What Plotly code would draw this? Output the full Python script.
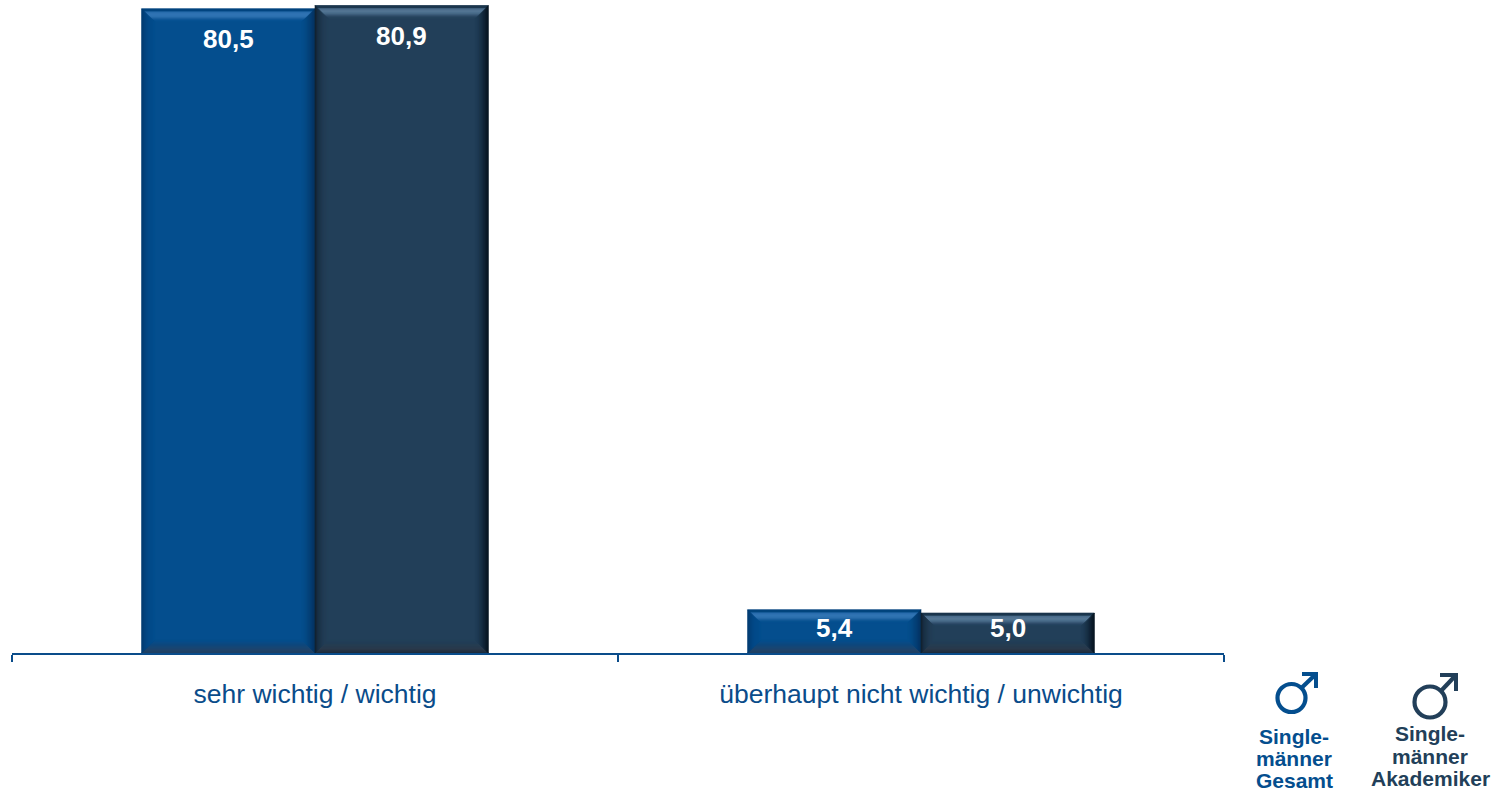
import plotly.graph_objects as go

categories = ["sehr wichtig / wichtig", "überhaupt nicht wichtig / unwichtig"]
series_names = ["Singlemänner Gesamt", "Singlemänner Akademiker"]
gesamt = [80.5, 5.4]
akademiker = [80.9, 5.0]
value_labels = [["80,5", "5,4"], ["80,9", "5,0"]]
label_drop_px = [[30, 18], [30, 15]]
legend_lines = [["Single-", "männer", "Gesamt"], ["Single-", "männer", "Akademiker"]]

W, H = 1507, 788
L, R, T, B = 12, 283, 0, 135
PLOT_W, PLOT_H = W - L - R, H - T - B
YMAX = 81.6
BARGAP = 0.428
PX_UNIT = PLOT_H / YMAX
BAR_UNITS = (1 - BARGAP) / 2
BAR_PX = BAR_UNITS * PLOT_W / len(categories)
BLUE, NAVY = "#044E8E", "#223F59"
AXIS = "#0A4C8A"
FONT = "Liberation Sans, Arial, sans-serif"
BEVEL = 13


def hex2rgb(c):
    return [int(c[i:i + 2], 16) for i in (1, 3, 5)]


def ramp(stops, k):
    for (a, ca), (b, cb) in zip(stops, stops[1:]):
        if a <= k <= b:
            t = (k - a) / (b - a)
            ra, rb = hex2rgb(ca), hex2rgb(cb)
            return "rgb(%d,%d,%d)" % tuple(round(x + (y - x) * t) for x, y in zip(ra, rb))
    return stops[-1][1]


PROFILES = {
    BLUE: {
        "top": [(0, "#03427C"), (2.5, "#03467F"), (3.5, "#2A6CAC"), (6, "#3679B8"), (8.5, "#2E70AF"), (11, "#0F5797"), (13, BLUE)],
        "left": [(0, "#04396B"), (3, "#03427C"), (7, "#034A88"), (13, BLUE)],
        "right": [(0, "#04305C"), (4, "#033D70"), (9, "#034882"), (13, BLUE)],
        "bottom": [(0, "#1E3F63"), (4, "#1F456E"), (8, "#0F477C"), (13, BLUE)],
    },
    NAVY: {
        "top": [(0, "#1A344C"), (2.5, "#1D384F"), (3.5, "#4A6B8A"), (6, "#587A98"), (8.5, "#486987"), (11, "#2C4A66"), (13, NAVY)],
        "left": [(0, "#101F2D"), (3, "#192F44"), (8, "#203B53"), (13, NAVY)],
        "right": [(0, "#06111B"), (4, "#0F2132"), (9, "#1C364D"), (13, NAVY)],
        "bottom": [(0, "#1B2B3A"), (4, "#2A3A4A"), (8, "#253C52"), (13, NAVY)],
    },
}


def bevel_shapes(cat_index, side, value, base):
    """Bevel rings for one bar, anchored on the bar's own data position."""
    left_units = cat_index - BAR_UNITS if side == 0 else cat_index
    w, h = BAR_PX, value * PX_UNIT
    out = []
    for k in range(BEVEL):
        a, b = k, k + 1
        lo = 0
        polys = {
            "top": [(a, h - a), (w - a, h - a), (w - b, h - b), (b, h - b)],
            "bottom": [(a, lo + a), (w - a, lo + a), (w - b, lo + b), (b, lo + b)],
            "left": [(a, lo + a), (b, lo + b), (b, h - b), (a, h - a)],
            "right": [(w - a, lo + a), (w - b, lo + b), (w - b, h - b), (w - a, h - a)],
        }
        for name, pts in polys.items():
            col = ramp(PROFILES[base][name], k + 0.5)
            path = "M" + " L".join(f"{x:.2f},{y:.2f}" for x, y in pts) + " Z"
            out.append(dict(type="path", path=path, xref="x", yref="y",
                            xsizemode="pixel", ysizemode="pixel",
                            xanchor=left_units, yanchor=0,
                            fillcolor=col, line=dict(color=col, width=0.6), layer="above"))
    return out


def xp(px):
    return (px - L) / PLOT_W


def yp(py):
    return (H - B - py) / PLOT_H


def mars_shapes(cx, cy, r, tipx, tipy, head, color):
    d = 0.7071
    sx, sy = cx + r * d, cy - r * d
    lw = 4.2
    return [
        dict(type="circle", xref="paper", yref="paper", x0=xp(cx - r), x1=xp(cx + r),
             y0=yp(cy + r), y1=yp(cy - r), line=dict(color=color, width=lw)),
        dict(type="line", xref="paper", yref="paper", x0=xp(sx), y0=yp(sy), x1=xp(tipx - 2), y1=yp(tipy + 2),
             line=dict(color=color, width=lw)),
        dict(type="path", xref="paper", yref="paper", line=dict(color=color, width=0), fillcolor=color,
             path=(f"M{xp(tipx - head)},{yp(tipy)} L{xp(tipx)},{yp(tipy)} L{xp(tipx)},{yp(tipy + head)} "
                   f"L{xp(tipx - 4)},{yp(tipy + head)} L{xp(tipx - 4)},{yp(tipy + 4)} L{xp(tipx - head)},{yp(tipy + 4)} Z")),
    ]


fig = go.Figure()
fig.add_bar(name=series_names[0], x=categories, y=gesamt, marker=dict(color=BLUE, line=dict(width=0)))
fig.add_bar(name=series_names[1], x=categories, y=akademiker, marker=dict(color=NAVY, line=dict(width=0)))

shapes, annotations = [], []
for side, (vals, base) in enumerate(((gesamt, BLUE), (akademiker, NAVY))):
    for i, v in enumerate(vals):
        shapes += bevel_shapes(i, side, v, base)
        x_center = i - BAR_UNITS / 2 if side == 0 else i + BAR_UNITS / 2
        annotations.append(dict(x=x_center, y=v, xref="x", yref="y", text=value_labels[side][i],
                                showarrow=False, yshift=-label_drop_px[side][i], yanchor="middle", xanchor="center",
                                font=dict(family=FONT, size=26, color="white", weight="bold")))

shapes += mars_shapes(1291.5, 698, 14, 1318, 672, 16, BLUE)
shapes += mars_shapes(1430, 702, 15.5, 1458, 673, 18, NAVY)

legend_pos = [(1294, [736, 758, 780], BLUE), (1430, [733, 756, 778], NAVY)]
for lines, (cx, ys, col) in zip(legend_lines, legend_pos):
    for text, y in zip(lines, ys):
        annotations.append(dict(x=xp(cx), y=yp(y), xref="paper", yref="paper", text=text, showarrow=False,
                                yanchor="middle", xanchor="center",
                                font=dict(family=FONT, size=21, color=col, weight="bold")))

fig.update_layout(
    width=W, height=H, margin=dict(l=L, r=R, t=T, b=B, pad=0),
    barmode="group", bargap=BARGAP, bargroupgap=0,
    plot_bgcolor="white", paper_bgcolor="white", showlegend=False,
    shapes=shapes, annotations=annotations,
    xaxis=dict(type="category", categoryorder="array", categoryarray=categories, range=[-0.5, 1.5],
               tickson="boundaries", ticks="outside", ticklen=7, tickwidth=1.5, tickcolor=AXIS,
               showline=True, linecolor=AXIS, linewidth=1.6, showgrid=False, zeroline=False,
               ticklabelstandoff=16, tickfont=dict(family=FONT, size=26.5, color="#0A4C8A")),
    yaxis=dict(range=[0, YMAX], visible=False, showgrid=False, zeroline=False),
)
fig.write_html("out.html", config=dict(displayModeBar=False),
               post_script="document.body.style.margin='0';document.documentElement.style.overflow='hidden';")
